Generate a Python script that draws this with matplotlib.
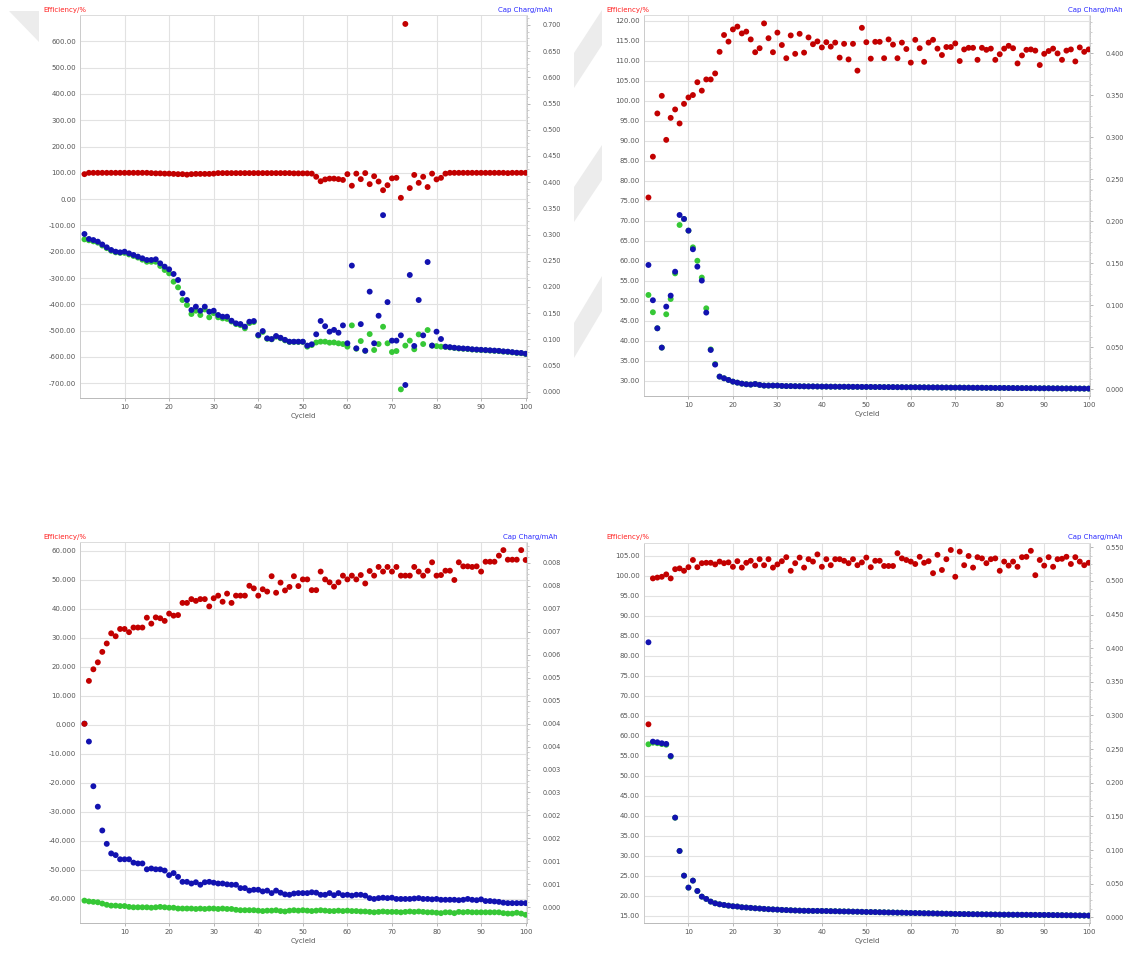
import matplotlib
matplotlib.use('Agg')
import matplotlib.pyplot as plt
from matplotlib.ticker import FixedLocator, AutoMinorLocator, NullLocator
from matplotlib.patches import Polygon

W, H = 1128, 955

cycles = list(range(1, 101))

# ---------------- Panel 1 (top-left) ----------------
eff1 = [95, 100, 100, 100, 100, 100, 100, 100, 100, 100,
        100, 100, 100, 100, 100, 99, 98, 98, 97, 97,
        96, 95, 95, 93, 95, 96, 96, 96, 96, 97,
        99, 99, 99, 99, 99, 99, 99, 99, 99, 99,
        99, 99, 99, 99, 99, 99, 99, 98, 98, 98,
        98, 97, 85, 68, 75, 78, 78, 76, 73, 95,
        51, 97, 76, 99, 57, 87, 67, 34, 53, 79,
        81, 5, 666, 42, 92, 62, 85, 46, 97, 75,
        81, 97, 100, 100, 100, 100, 100, 100, 100, 100,
        100, 100, 100, 100, 100, 99, 100, 100, 100, 100]
charge1 = [0.301, 0.2915, 0.2895, 0.2864, 0.281, 0.2756, 0.2705, 0.2673, 0.266, 0.2673,
           0.264, 0.261, 0.2578, 0.2546, 0.2514, 0.2514, 0.2527, 0.245, 0.2387, 0.2336,
           0.2247, 0.2132, 0.1877, 0.175, 0.156, 0.1623, 0.1546, 0.1623, 0.1527, 0.1546,
           0.1464, 0.1432, 0.1432, 0.1355, 0.1305, 0.1292, 0.1241, 0.1336, 0.1349, 0.1082,
           0.1158, 0.1018, 0.1005, 0.1063, 0.103, 0.099, 0.0955, 0.0955, 0.0955, 0.0955,
           0.088, 0.0905, 0.1096, 0.135, 0.125, 0.1146, 0.118, 0.1126, 0.1266, 0.0924,
           0.2407, 0.0828, 0.129, 0.0783, 0.191, 0.0924, 0.145, 0.337, 0.171, 0.0975,
           0.0975, 0.1076, 0.0128, 0.2228, 0.0873, 0.175, 0.1076, 0.2475, 0.088, 0.1146,
           0.1006, 0.086, 0.085, 0.084, 0.083, 0.0825, 0.082, 0.081, 0.0805, 0.080,
           0.0795, 0.079, 0.0785, 0.078, 0.077, 0.0765, 0.0755, 0.0745, 0.074, 0.0725]
discharge1 = [0.2908, 0.289, 0.287, 0.2845, 0.279, 0.274, 0.269, 0.266, 0.265, 0.265,
              0.262, 0.259, 0.256, 0.252, 0.248, 0.248, 0.248, 0.240, 0.2323, 0.226,
              0.210, 0.1992, 0.175, 0.1655, 0.1483, 0.1546, 0.1464, 0.157, 0.142, 0.150,
              0.142, 0.140, 0.139, 0.134, 0.129, 0.127, 0.121, 0.131, 0.133, 0.107,
              0.114, 0.101, 0.100, 0.105, 0.102, 0.098, 0.095, 0.095, 0.095, 0.095,
              0.086, 0.089, 0.094, 0.0955, 0.0955, 0.0936, 0.094, 0.0923, 0.091, 0.086,
              0.1266, 0.082, 0.0967, 0.078, 0.110, 0.0796, 0.091, 0.124, 0.0924, 0.0757,
              0.0776, 0.0045, 0.088, 0.0975, 0.081, 0.1094, 0.091, 0.1177, 0.088, 0.087,
              0.086, 0.0855, 0.0845, 0.0835, 0.0825, 0.082, 0.0815, 0.0805, 0.080, 0.0795,
              0.079, 0.0785, 0.078, 0.0775, 0.0765, 0.076, 0.075, 0.074, 0.0735, 0.072]
eff1_ticks = [600, 500, 400, 300, 200, 100, 0, -100, -200, -300, -400, -500, -600, -700]
eff1_labels = ['600.00', '500.00', '400.00', '300.00', '200.00', '100.00', '0.00',
               '-100.00', '-200.00', '-300.00', '-400.00', '-500.00', '-600.00', '-700.00']
cap1_ticks = [0.0, 0.05, 0.1, 0.15, 0.2, 0.25, 0.3, 0.35, 0.4, 0.45, 0.5, 0.55, 0.6, 0.65, 0.7]
cap1_labels = ['0.000', '0.050', '0.100', '0.150', '0.200', '0.250', '0.300', '0.350',
               '0.400', '0.450', '0.500', '0.550', '0.600', '0.650', '0.700']

# ---------------- Panel 2 (top-right) ----------------
eff2 = [75.8, 86.0, 96.8, 101.2, 90.2, 95.7, 97.8, 94.3, 99.2, 100.8,
        101.4, 104.6, 102.5, 105.3, 105.3, 106.8, 112.2, 116.4, 114.75, 117.8,
        118.5, 116.8, 117.25, 115.3, 112.1, 113.1, 119.3, 115.6, 112.1, 117.0,
        113.9, 110.6, 116.3, 111.7, 116.7, 112.0, 115.8, 114.1, 114.8, 113.3,
        114.6, 113.5, 114.5, 110.75, 114.2, 110.3, 114.2, 107.5, 118.2, 114.6,
        110.5, 114.7, 114.7, 110.6, 115.3, 114.0, 110.6, 114.5, 112.9, 109.5,
        115.2, 113.1, 109.7, 114.5, 115.2, 113.0, 111.4, 113.4, 113.4, 114.3,
        109.9, 112.8, 113.2, 113.2, 110.2, 113.2, 112.7, 113.0, 110.2, 111.6,
        113.0, 113.7, 113.1, 109.3, 111.3, 112.7, 112.8, 112.5, 108.9, 111.7,
        112.4, 113.0, 111.8, 110.2, 112.5, 112.8, 109.8, 113.3, 112.2, 112.8]
charge2 = [0.148, 0.106, 0.0726, 0.0496, 0.0984, 0.1115, 0.140, 0.2075, 0.2028, 0.1889,
           0.1667, 0.146, 0.1294, 0.0913, 0.0468, 0.0294, 0.0151, 0.0131, 0.0111, 0.0091,
           0.0079, 0.0067, 0.0060, 0.0056, 0.0063, 0.0052, 0.0044, 0.0044, 0.0044, 0.0044,
           0.0040, 0.0038, 0.0038, 0.0037, 0.0036, 0.0035, 0.0034, 0.0034, 0.0033, 0.0032,
           0.0032, 0.0031, 0.0031, 0.0030, 0.0030, 0.0030, 0.0029, 0.0029, 0.0028, 0.0028,
           0.0028, 0.0027, 0.0027, 0.0026, 0.0026, 0.0026, 0.0025, 0.0025, 0.0024, 0.0024,
           0.0024, 0.0023, 0.0023, 0.0022, 0.0022, 0.0022, 0.0021, 0.0021, 0.0020, 0.0020,
           0.0020, 0.0019, 0.0019, 0.0018, 0.0018, 0.0018, 0.0017, 0.0017, 0.0016, 0.0016,
           0.0016, 0.0015, 0.0015, 0.0014, 0.0014, 0.0014, 0.0013, 0.0013, 0.0012, 0.0012,
           0.0012, 0.0011, 0.0011, 0.0010, 0.0010, 0.0010, 0.0009, 0.0009, 0.0008, 0.0008]
discharge2 = [0.1123, 0.0917, 0.0726, 0.0496, 0.0893, 0.1075, 0.138, 0.1956, 0.2028, 0.1889,
              0.169, 0.153, 0.133, 0.0964, 0.0475, 0.0300, 0.0151, 0.0131, 0.0111, 0.0091,
              0.0079, 0.0067, 0.0060, 0.0056, 0.0063, 0.0052, 0.0044, 0.0044, 0.0044, 0.0044,
              0.0040, 0.0038, 0.0038, 0.0037, 0.0036, 0.0035, 0.0034, 0.0034, 0.0033, 0.0032,
              0.0032, 0.0031, 0.0031, 0.0030, 0.0030, 0.0030, 0.0029, 0.0029, 0.0028, 0.0028,
              0.0028, 0.0027, 0.0027, 0.0026, 0.0026, 0.0026, 0.0025, 0.0025, 0.0024, 0.0024,
              0.0024, 0.0023, 0.0023, 0.0022, 0.0022, 0.0022, 0.0021, 0.0021, 0.0020, 0.0020,
              0.0020, 0.0019, 0.0019, 0.0018, 0.0018, 0.0018, 0.0017, 0.0017, 0.0016, 0.0016,
              0.0016, 0.0015, 0.0015, 0.0014, 0.0014, 0.0014, 0.0013, 0.0013, 0.0012, 0.0012,
              0.0012, 0.0011, 0.0011, 0.0010, 0.0010, 0.0010, 0.0009, 0.0009, 0.0008, 0.0008]
eff2_ticks = [120, 115, 110, 105, 100, 95, 90, 85, 80, 75, 70, 65, 60, 55, 50, 45, 40, 35, 30]
eff2_labels = ['120.00', '115.00', '110.00', '105.00', '100.00', '95.00', '90.00', '85.00',
               '80.00', '75.00', '70.00', '65.00', '60.00', '55.00', '50.00', '45.00',
               '40.00', '35.00', '30.00']
cap2_ticks = [0.0, 0.05, 0.1, 0.15, 0.2, 0.25, 0.3, 0.35, 0.4]
cap2_labels = ['0.000', '0.050', '0.100', '0.150', '0.200', '0.250', '0.300', '0.350', '0.400']

# ---------------- Panel 3 (bottom-left) ----------------
eff3 = [0.3, 15.1, 19.1, 21.5, 25.1, 28.0, 31.5, 30.5, 33.0, 33.0,
        31.9, 33.5, 33.5, 33.5, 36.9, 34.85, 37.0, 36.7, 35.8, 38.3,
        37.6, 37.8, 42.0, 42.0, 43.3, 42.7, 43.3, 43.3, 40.8, 43.6,
        44.5, 42.4, 45.2, 42.0, 44.5, 44.5, 44.5, 47.9, 47.0, 44.5,
        46.7, 45.9, 51.2, 45.5, 49.0, 46.3, 47.5, 51.2, 47.8, 50.1,
        50.1, 46.4, 46.4, 52.8, 50.1, 49.1, 47.6, 49.1, 51.4, 50.1,
        51.4, 50.1, 51.6, 48.7, 53.0, 51.4, 54.4, 52.8, 54.4, 52.8,
        54.4, 51.4, 51.4, 51.4, 54.4, 52.8, 51.4, 53.1, 56.0, 51.4,
        51.6, 53.1, 53.1, 49.9, 56.0, 54.6, 54.6, 54.4, 54.6, 52.8,
        56.2, 56.2, 56.2, 58.3, 60.2, 56.9, 56.9, 56.9, 60.2, 56.8]
charge3 = [0.0044, 0.00397, 0.0029, 0.00241, 0.00184, 0.00152, 0.00129, 0.00125, 0.00115, 0.00115,
           0.00115, 0.00107, 0.00105, 0.00105, 0.00091, 0.00093, 0.00091, 0.00091, 0.00088, 0.00077,
           0.00082, 0.00073, 0.00061, 0.00061, 0.00057, 0.0006, 0.00054, 0.0006, 0.00061, 0.00059,
           0.00057, 0.00057, 0.00055, 0.00054, 0.00054, 0.00046, 0.00046, 0.0004, 0.00042, 0.00042,
           0.00038, 0.0004, 0.00034, 0.0004, 0.00035, 0.00031, 0.0003, 0.00033, 0.00034, 0.00034,
           0.00034, 0.00036, 0.00035, 0.0003, 0.0003, 0.00034, 0.00029, 0.00034, 0.00029, 0.0003,
           0.00028, 0.0003, 0.0003, 0.00028, 0.00022, 0.0002, 0.00022, 0.00023, 0.00022, 0.00023,
           0.0002, 0.0002, 0.0002, 0.0002, 0.00021, 0.00022, 0.0002, 0.0002, 0.00019, 0.0002,
           0.00018, 0.00018, 0.00018, 0.00018, 0.00017, 0.00018, 0.0002, 0.00018, 0.00017, 0.00019,
           0.00015, 0.00015, 0.00014, 0.00013, 0.00011, 0.0001, 0.0001, 0.0001, 0.0001, 0.0001]
discharge3 = [0.00016, 0.00014, 0.00013, 0.00012, 0.00009, 0.00006, 0.00004, 0.00004, 0.00003, 0.00003,
              0.00001, 0.0, 0.0, 0.0, 0.0, -0.00001, 0.0, 0.00001, 0.0, -0.00001,
              -0.00001, -0.00003, -0.00003, -0.00003, -0.00003, -0.00004, -0.00003, -0.00004, -0.00003, -0.00003,
              -0.00004, -0.00003, -0.00004, -0.00004, -0.00006, -0.00007, -0.00007, -0.00007, -0.00007, -0.00008,
              -0.00009, -0.00008, -0.00008, -0.00007, -0.00009, -0.0001, -0.00008, -0.00007, -0.00008, -0.00007,
              -0.00008, -0.00009, -0.00008, -0.00007, -0.00008, -0.00009, -0.00009, -0.00008, -0.00009, -0.00008,
              -0.00009, -0.00009, -0.0001, -0.0001, -0.00011, -0.00012, -0.00011, -0.0001, -0.00011, -0.00011,
              -0.00011, -0.00012, -0.00011, -0.0001, -0.00011, -0.0001, -0.00011, -0.00012, -0.00012, -0.00013,
              -0.00014, -0.00012, -0.00012, -0.00014, -0.00011, -0.00012, -0.00011, -0.00012, -0.00012, -0.00012,
              -0.00012, -0.00012, -0.00012, -0.00012, -0.00014, -0.00015, -0.00015, -0.00013, -0.00015, -0.00018]
eff3_ticks = [60, 50, 40, 30, 20, 10, 0, -10, -20, -30, -40, -50, -60]
eff3_labels = ['60.000', '50.000', '40.000', '30.000', '20.000', '10.000', '0.000',
               '-10.000', '-20.000', '-30.000', '-40.000', '-50.000', '-60.000']
cap3_ticks = [0.0, 0.00055, 0.0011, 0.00165, 0.0022, 0.00275, 0.0033, 0.00385,
              0.0044, 0.00495, 0.0055, 0.00605, 0.0066, 0.00715, 0.0077, 0.00825]
cap3_labels = ['0.000', '0.001', '0.001', '0.002', '0.002', '0.003', '0.003', '0.004',
               '0.004', '0.005', '0.005', '0.006', '0.007', '0.007', '0.008', '0.008']

# ---------------- Panel 4 (bottom-right) ----------------
eff4 = [62.9, 99.4, 99.6, 99.8, 100.4, 99.4, 101.7, 101.9, 101.3, 102.2,
        104.0, 102.2, 103.2, 103.3, 103.3, 102.9, 103.6, 103.2, 103.4, 102.3,
        103.7, 102.1, 103.3, 103.8, 102.6, 104.2, 102.7, 104.2, 102.1, 102.9,
        103.7, 104.7, 101.3, 103.2, 104.6, 102.1, 104.2, 103.6, 105.4, 102.3,
        104.2, 102.7, 104.2, 104.2, 103.8, 103.2, 104.2, 102.7, 103.4, 104.6,
        102.2, 103.8, 103.8, 102.5, 102.5, 102.5, 105.7, 104.4, 104.0, 103.6,
        103.0, 104.8, 103.3, 103.7, 100.7, 105.3, 101.5, 104.2, 106.5, 99.8,
        106.1, 102.7, 105.0, 102.1, 104.7, 104.4, 103.2, 104.2, 104.4, 101.3,
        103.6, 102.6, 103.6, 102.3, 104.7, 104.8, 106.3, 100.2, 104.0, 102.6,
        104.7, 102.3, 104.2, 104.3, 104.8, 103.0, 104.7, 103.6, 102.7, 103.3]
charge4 = [0.4088, 0.2611, 0.2602, 0.2587, 0.2577, 0.2398, 0.1482, 0.0986, 0.0619, 0.0441,
           0.0545, 0.0391, 0.0307, 0.0273, 0.0233, 0.0208, 0.0193, 0.0183, 0.0173, 0.0164,
           0.0160, 0.0149, 0.0145, 0.0140, 0.0134, 0.0130, 0.0125, 0.0120, 0.0117, 0.0114,
           0.0110, 0.0107, 0.0104, 0.0101, 0.0099, 0.0097, 0.0096, 0.0095, 0.0095, 0.0094,
           0.0093, 0.0091, 0.0090, 0.0088, 0.0087, 0.0086, 0.0084, 0.0083, 0.0081, 0.0079,
           0.0078, 0.0077, 0.0075, 0.0074, 0.0072, 0.0071, 0.0069, 0.0068, 0.0066, 0.0064,
           0.0063, 0.0062, 0.0060, 0.0059, 0.0058, 0.0056, 0.0055, 0.0053, 0.0052, 0.0050,
           0.0049, 0.0048, 0.0047, 0.0046, 0.0045, 0.0044, 0.0043, 0.0042, 0.0041, 0.0040,
           0.0039, 0.0039, 0.0038, 0.0038, 0.0037, 0.0037, 0.0036, 0.0036, 0.0035, 0.0035,
           0.0034, 0.0033, 0.0032, 0.0031, 0.0030, 0.0029, 0.0028, 0.0027, 0.0026, 0.0025]
discharge4 = [0.2572, 0.2595, 0.2588, 0.2575, 0.2565, 0.2388, 0.148, 0.0986, 0.0619, 0.0441,
              0.0545, 0.0391, 0.0307, 0.0273, 0.0233, 0.0208, 0.0193, 0.0183, 0.0173, 0.0164,
              0.0160, 0.0149, 0.0145, 0.0140, 0.0134, 0.0130, 0.0125, 0.0120, 0.0117, 0.0114,
              0.0110, 0.0107, 0.0104, 0.0101, 0.0099, 0.0097, 0.0096, 0.0095, 0.0095, 0.0094,
              0.0093, 0.0091, 0.0090, 0.0088, 0.0087, 0.0086, 0.0084, 0.0083, 0.0081, 0.0079,
              0.0078, 0.0077, 0.0075, 0.0074, 0.0072, 0.0071, 0.0069, 0.0068, 0.0066, 0.0064,
              0.0063, 0.0062, 0.0060, 0.0059, 0.0058, 0.0056, 0.0055, 0.0053, 0.0052, 0.0050,
              0.0049, 0.0048, 0.0047, 0.0046, 0.0045, 0.0044, 0.0043, 0.0042, 0.0041, 0.0040,
              0.0039, 0.0039, 0.0038, 0.0038, 0.0037, 0.0037, 0.0036, 0.0036, 0.0035, 0.0035,
              0.0034, 0.0033, 0.0032, 0.0031, 0.0030, 0.0029, 0.0028, 0.0027, 0.0026, 0.0025]
eff4_ticks = [105, 100, 95, 90, 85, 80, 75, 70, 65, 60, 55, 50, 45, 40, 35, 30, 25, 20, 15]
eff4_labels = ['105.00', '100.00', '95.00', '90.00', '85.00', '80.00', '75.00', '70.00',
               '65.00', '60.00', '55.00', '50.00', '45.00', '40.00', '35.00', '30.00',
               '25.00', '20.00', '15.00']
cap4_ticks = [0.0, 0.05, 0.1, 0.15, 0.2, 0.25, 0.3, 0.35, 0.4, 0.45, 0.5, 0.55]
cap4_labels = ['0.000', '0.050', '0.100', '0.150', '0.200', '0.250', '0.300', '0.350',
               '0.400', '0.450', '0.500', '0.550']

x_ticks = [10, 20, 30, 40, 50, 60, 70, 80, 90, 100]
x_labels = ['10', '20', '30', '40', '50', '60', '70', '80', '90', '100']

left_title = 'Efficiency/%'
right_title = 'Cap Charg/mAh'
x_title = 'CycleId'

RED = '#c20000'
BLUE = '#1212b0'
GREEN = '#36c836'
GRID = '#e2e2e2'
TXT = '#555555'

plt.rcParams['font.family'] = ['DejaVu Sans']

fig = plt.figure(figsize=(W / 100, H / 100), dpi=100)
fig.patch.set_facecolor('white')


def fx(x):
    return x / W


def fy(y):
    return 1 - y / H


# faint grey decorations at the left edges
for poly in ([(9, 11), (39, 11), (39, 42)],
             [(602, 10), (602, 45), (574, 88), (574, 53)],
             [(602, 145), (602, 180), (574, 222), (574, 187)],
             [(602, 276), (602, 311), (574, 358), (574, 323)]):
    fig.patches.append(Polygon([(fx(a), fy(b)) for a, b in poly], closed=True,
                               transform=fig.transFigure, facecolor='#ececec',
                               edgecolor='none', zorder=0))


def panel(box, eff, chg, dis, ylim_l, ylim_r, lt, ll, rt, rl, title_y, lt_x, rt_x):
    l, t, r, b = box
    ax = fig.add_axes([fx(l), fy(b), (r - l) / W, (b - t) / H])
    ax2 = ax.twinx()
    ax.set_zorder(ax2.get_zorder() + 1)
    ax.patch.set_visible(False)
    ax2.patch.set_facecolor('white')

    ax2.scatter(cycles, dis, s=18, color=GREEN, edgecolors='none', zorder=3)
    ax2.scatter(cycles, chg, s=18, color=BLUE, edgecolors='none', zorder=4)
    ax.scatter(cycles, eff, s=18, color=RED, edgecolors='none', zorder=5)

    ax.set_xlim(0, 100.3)
    ax.set_ylim(*ylim_l)
    ax2.set_ylim(*ylim_r)

    ax.yaxis.set_major_locator(FixedLocator(lt))
    ax.set_yticklabels(ll)
    ax.xaxis.set_major_locator(FixedLocator(x_ticks))
    ax.set_xticklabels(x_labels)
    ax2.yaxis.set_major_locator(FixedLocator(rt))
    ax2.set_yticklabels(rl)
    ax2.yaxis.set_minor_locator(AutoMinorLocator(4))
    ax.yaxis.set_minor_locator(NullLocator())

    # grid drawn on the back axes
    for v in x_ticks:
        ax2.axvline(v, color=GRID, lw=0.8, zorder=0)
    for v in lt:
        ax2.axhline((v - ylim_l[0]) / (ylim_l[1] - ylim_l[0]) * (ylim_r[1] - ylim_r[0]) + ylim_r[0],
                    color=GRID, lw=0.8, zorder=0)

    ax.tick_params(axis='y', length=0, pad=3, labelsize=5, labelcolor=TXT)
    ax.tick_params(axis='x', length=2.5, width=0.6, color='#aaaaaa', pad=2,
                   labelsize=5, labelcolor=TXT)
    ax2.tick_params(axis='y', which='major', length=2.5, width=0.6, color='#aaaaaa',
                    pad=8.5, labelsize=4.7, labelcolor=TXT)
    ax2.tick_params(axis='y', which='minor', length=1.5, width=0.5, color='#bbbbbb')
    ax2.tick_params(axis='x', length=0, labelbottom=False)

    for a in (ax, ax2):
        a.spines['top'].set_color('#dddddd')
        a.spines['left'].set_color('#cccccc')
        a.spines['bottom'].set_color('#bbbbbb')
        a.spines['right'].set_color('#c8c8c8')
        a.spines['right'].set_linestyle((0, (1, 1.5)))
        for s in a.spines.values():
            s.set_linewidth(0.7)

    ax.set_xlabel(x_title, fontsize=5, color=TXT, labelpad=2)
    fig.text(fx(lt_x), fy(title_y), left_title, color='#ff2020', fontsize=5,
             ha='left', va='center')
    fig.text(fx(rt_x), fy(title_y), right_title, color='#2a2aff', fontsize=5,
             ha='right', va='center')


panel((80, 15, 527, 398), eff1, charge1, discharge1, (-756, 700), (-0.012, 0.719),
      eff1_ticks, eff1_labels, cap1_ticks, cap1_labels, 10, 43, 553)
panel((644, 15, 1090, 396), eff2, charge2, discharge2, (26.2, 121.4), (-0.008, 0.4456),
      eff2_ticks, eff2_labels, cap2_ticks, cap2_labels, 10, 606, 1123)
panel((80, 542, 527, 923), eff3, charge3, discharge3, (-68.4, 63.0), (-0.000376, 0.00875),
      eff3_ticks, eff3_labels, cap3_ticks, cap3_labels, 537, 43, 558)
panel((644, 543, 1090, 923), eff4, charge4, discharge4, (13.2, 108.25), (-0.0085, 0.5564),
      eff4_ticks, eff4_labels, cap4_ticks, cap4_labels, 537, 606, 1123)

fig.savefig('out.png', dpi=100, facecolor='white')
